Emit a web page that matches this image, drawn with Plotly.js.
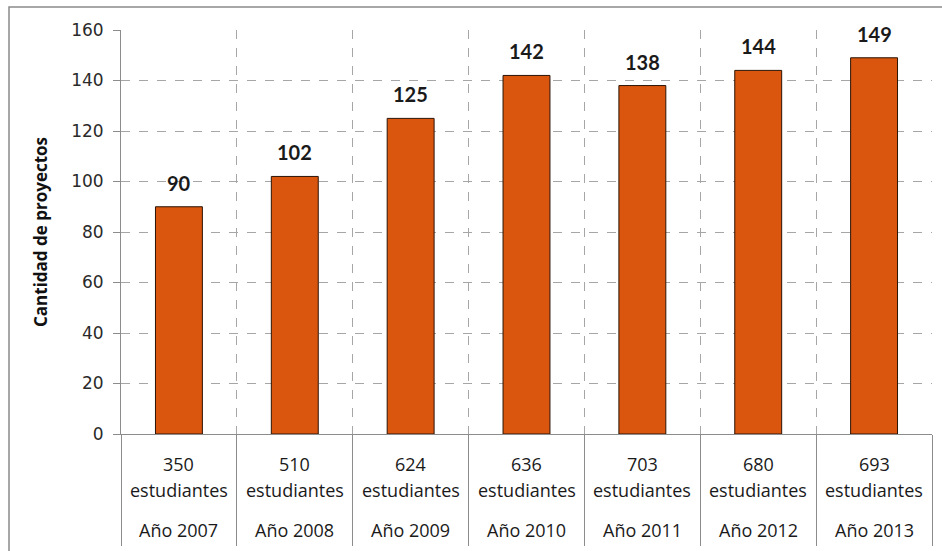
<!DOCTYPE html>
<html><head><meta charset="utf-8">
<script src="https://cdn.plot.ly/plotly-3.0.1.min.js"></script>
<style>html,body{margin:0;padding:0;background:#fff}#chart{width:942px;height:551px}</style>
</head><body><div id="chart"></div>
<script>
const years = ["Año 2007","Año 2008","Año 2009","Año 2010","Año 2011","Año 2012","Año 2013"];
const students = ["350","510","624","636","703","680","693"];
const projects = [90,102,125,142,138,144,149];
const yTicks = [0,20,40,60,80,100,120,140,160];

const barColor = "#DA560E";
const gray = "#8c8c8c";
const catFont = {family:"'Open Sans', sans-serif", size:18, color:"#1a1a1a"};

const bar = {
  type: "bar", x: years, y: projects, width: 0.405,
  marker: {color: barColor, line: {color: "#2b1406", width: 1}},
  hoverinfo: "x+y"
};
const dummy = {type:"scatter", x: [], y: [], xaxis: "x2", showlegend:false};

const ann = [];
years.forEach((yr, i) => {
  ann.push({x: yr, y: projects[i], xref:"x", yref:"y", text: String(projects[i]), showarrow:false,
    yanchor:"bottom", yshift: 10, font:{family:"Lato, 'Open Sans', sans-serif", size:20, color:"#1a1a1a", weight:700}});
  ann.push({x: yr, y: 0, xref:"x", yref:"paper", text: students[i], showarrow:false,
    yanchor:"middle", yshift:-30, font:catFont});
  ann.push({x: yr, y: 0, xref:"x", yref:"paper", text: "estudiantes", showarrow:false,
    yanchor:"middle", yshift:-56, font:catFont});
  ann.push({x: yr, y: 0, xref:"x", yref:"paper", text: yr, showarrow:false,
    yanchor:"middle", yshift:-96, font:catFont});
});

const boundaries = years.map((_, i) => i - 0.5).concat([years.length - 0.5]);

const layout = {
  width: 942, height: 551,
  margin: {l:121, r:10, t:30, b:117},
  paper_bgcolor:"#fff", plot_bgcolor:"#fff",
  showlegend:false,
  xaxis: {type:"category", range:[-0.5, 6.5], showticklabels:false, ticks:"", showgrid:false,
    showline:true, linecolor:gray, linewidth:1, zeroline:false, fixedrange:true},
  xaxis2: {type:"linear", overlaying:"x", anchor:"y", side:"bottom", range:[-0.5, 6.5],
    tickmode:"array", tickvals: boundaries, showticklabels:false, ticks:"outside", ticklen:111,
    tickwidth:1, tickcolor:gray, showgrid:true, gridcolor:"#a6a6a6", griddash:"dash", gridwidth:1,
    zeroline:false, showline:false},
  yaxis: {range:[0,160], tickmode:"array", tickvals:yTicks, ticks:"outside", ticklen:7, tickcolor:gray,
    showline:true, linecolor:gray, linewidth:1, showgrid:true, gridcolor:"#a6a6a6", griddash:"dash",
    zeroline:false, automargin:false, ticklabelstandoff:6,
    tickfont:{family:"DejaVu Sans, Verdana, sans-serif", size:17, color:"#2a2a2a"},
    title:{text:"Cantidad de proyectos", standoff:19,
      font:{family:"'Open Sans', sans-serif", size:17, color:"#111", weight:700}}},
  annotations: ann,
  shapes: [{type:"rect", xref:"paper", yref:"paper", x0:-0.1381, x1:1.02, y0:-0.35, y1:1.0569,
    line:{color:"#8a8a8a", width:1.5}, fillcolor:"rgba(0,0,0,0)", layer:"below"}]
};

Plotly.newPlot("chart", [bar, dummy], layout, {staticPlot:true});
</script></body></html>
